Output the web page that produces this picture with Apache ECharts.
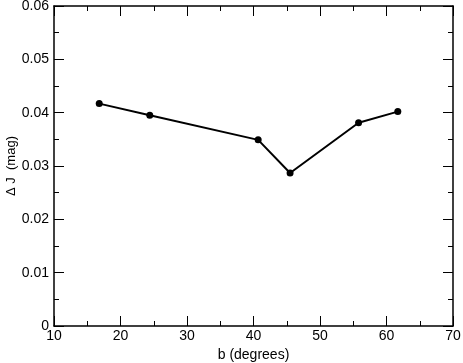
<!DOCTYPE html>
<html>
<head>
<meta charset="utf-8">
<script src="https://cdn.jsdelivr.net/npm/echarts@6/dist/echarts.min.js"></script>
<style>
  html, body { margin: 0; padding: 0; background: #fff; }
  #main { width: 463px; height: 363px; }
</style>
</head>
<body>
<div id="main"></div>
<script>
// data
const bDeg = [16.8, 24.4, 40.7, 45.5, 55.8, 61.7];
const deltaJ = [0.0417, 0.0395, 0.0349, 0.0287, 0.0381, 0.0402];

const xTitle = 'b (degrees)';
const yTitle = '\u0394 J  (mag)';

const font = 'Liberation Sans, Arial, sans-serif';

// one axis factory, for the four framed sides
function xAx(pos, showLabel) {
    return {
        type: 'value', position: pos, min: 10, max: 70, interval: 10,
        name: showLabel ? xTitle : '',
        nameLocation: 'middle', nameGap: 22, nameMoveOverlap: false,
        nameTextStyle: { color: '#000', fontSize: 14, fontFamily: font },
        axisLine: { show: true, onZero: false, lineStyle: { color: '#000', width: 1.5 } },
        axisTick: { show: true, inside: true, length: 10, lineStyle: { color: '#000', width: 1 } },
        minorTick: { show: true, splitNumber: 2, length: 5, lineStyle: { color: '#000', width: 1 } },
        axisLabel: { show: showLabel, color: '#000', fontSize: 14, fontFamily: font, margin: 3 },
        splitLine: { show: false }
    };
}
function yAx(pos, showLabel) {
    return {
        type: 'value', position: pos, min: 0, max: 0.06, interval: 0.01,
        name: showLabel ? yTitle : '',
        nameLocation: 'middle', nameGap: 36, nameRotate: 90, nameMoveOverlap: false,
        nameTextStyle: { color: '#000', fontSize: 13, fontFamily: font },
        axisLine: { show: true, onZero: false, lineStyle: { color: '#000', width: 1.5 } },
        axisTick: { show: true, inside: true, length: 10, lineStyle: { color: '#000', width: 1 } },
        minorTick: { show: true, splitNumber: 2, length: 5, lineStyle: { color: '#000', width: 1 } },
        axisLabel: {
            show: showLabel, color: '#000', fontSize: 14, fontFamily: font, margin: 5,
            formatter: function (v) { return v === 0 ? '0' : v.toFixed(2); }
        },
        splitLine: { show: false }
    };
}

const myChart = echarts.init(document.getElementById('main'), null, { renderer: 'canvas' });
myChart.setOption({
    animation: false,
    backgroundColor: '#fff',
    grid: { left: 54, right: 10, top: 6, bottom: 37, containLabel: false, outerBoundsMode: 'none' },
    xAxis: [xAx('bottom', true), xAx('top', false)],
    yAxis: [yAx('left', true), yAx('right', false)],
    series: [{
        type: 'line',
        xAxisIndex: 0,
        yAxisIndex: 0,
        data: bDeg.map((b, i) => [b, deltaJ[i]]),
        symbol: 'circle',
        symbolSize: 7,
        lineStyle: { color: '#000', width: 2 },
        itemStyle: { color: '#000' }
    }]
});
</script>
</body>
</html>
